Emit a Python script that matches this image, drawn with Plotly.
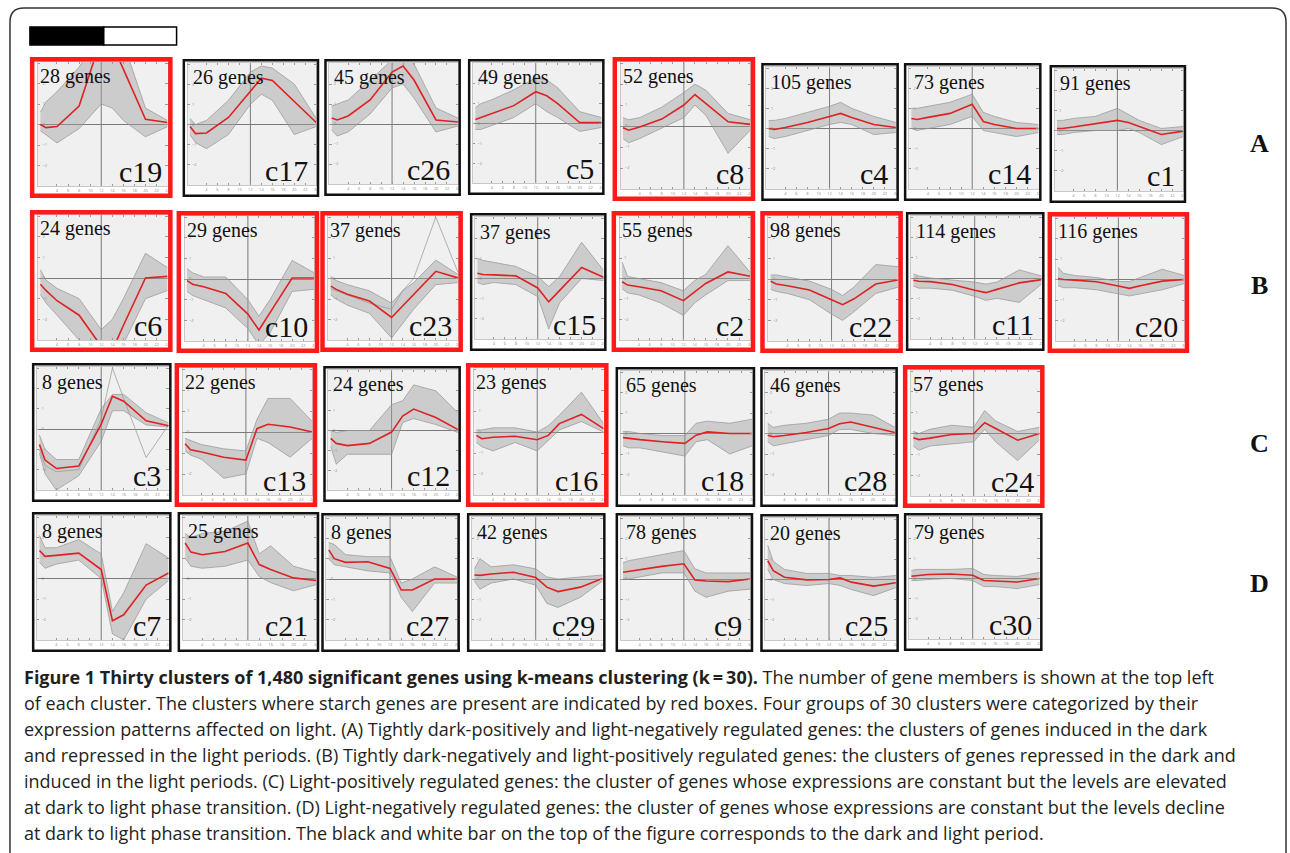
import plotly.graph_objects as go

W, H = 1290, 853

# sampling times (h) of the 24 h dark/light time course
T = [1, 2, 4, 8, 12, 14, 16, 20, 24]

ROW_A = ["c19", "c17", "c26", "c5", "c8", "c4", "c14", "c1"]
ROW_B = ["c6", "c10", "c23", "c15", "c2", "c22", "c11", "c20"]
ROW_C = ["c3", "c13", "c12", "c16", "c18", "c28", "c24"]
ROW_D = ["c7", "c21", "c27", "c29", "c9", "c25", "c30"]

GENES = {
    "c19": 28, "c17": 26, "c26": 45, "c5": 49, "c8": 52, "c4": 105, "c14": 73, "c1": 91,
    "c6": 24, "c10": 29, "c23": 37, "c15": 37, "c2": 55, "c22": 98, "c11": 114, "c20": 116,
    "c3": 8, "c13": 22, "c12": 24, "c16": 23, "c18": 65, "c28": 46, "c24": 57,
    "c7": 8, "c21": 25, "c27": 8, "c29": 42, "c9": 78, "c25": 20, "c30": 79,
}

# clusters that contain starch genes
STARCH = ["c19", "c8", "c6", "c10", "c23", "c2", "c22", "c20", "c13", "c16", "c24"]

# cluster mean expression (log ratio) at each time point
MEAN = {
    "c19": [0.0, -0.15, -0.1, 0.9, 4.2, 3.9, 2.7, 0.25, 0.1],
    "c17": [-0.1, -0.45, -0.42, 0.35, 1.65, 2.3, 2.18, 1.14, 0.1],
    "c26": [0.3, 0.2, 0.4, 1.2, 2.6, 2.9, 2.2, 0.2, 0.1],
    "c5": [0.2, 0.3, 0.5, 0.9, 1.6, 1.4, 1.0, 0.05, 0.05],
    "c8": [-0.08, -0.2, -0.05, 0.33, 1.0, 1.5, 1.07, 0.2, 0.08],
    "c4": [0.0, -0.05, 0.05, 0.3, 0.6, 0.75, 0.55, 0.2, 0.05],
    "c14": [0.5, 0.45, 0.55, 0.75, 1.2, 0.35, 0.2, 0.0, 0.0],
    "c1": [0.1, 0.1, 0.17, 0.33, 0.5, 0.4, 0.2, -0.2, -0.03],
    "c6": [-0.3, -0.6, -1.1, -1.8, -3.3, -3.5, -2.3, 0.0, 0.08],
    "c10": [-0.08, -0.25, -0.37, -0.7, -1.7, -2.47, -1.63, 0.05, 0.05],
    "c23": [-0.37, -0.53, -0.77, -1.1, -1.9, -1.34, -0.78, 0.35, 0.03],
    "c15": [0.26, 0.2, 0.18, 0.13, -0.47, -1.16, -0.59, 0.55, 0.06],
    "c2": [-0.16, -0.32, -0.4, -0.6, -1.08, -0.66, -0.24, 0.32, 0.11],
    "c22": [-0.11, -0.24, -0.33, -0.53, -1.0, -1.24, -0.97, -0.24, -0.05],
    "c11": [-0.11, -0.16, -0.18, -0.32, -0.6, -0.72, -0.56, -0.24, -0.08],
    "c20": [0.05, 0.0, -0.03, -0.11, -0.32, -0.43, -0.3, -0.08, 0.0],
    "c3": [-0.76, -1.53, -1.94, -1.82, 0.24, 1.61, 1.37, 0.4, 0.16],
    "c13": [-0.56, -0.85, -0.95, -1.2, -1.34, 0.16, 0.37, 0.24, 0.0],
    "c12": [-0.4, -0.65, -0.76, -0.65, -0.08, 0.73, 1.08, 0.65, 0.05],
    "c16": [-0.16, -0.32, -0.25, -0.2, -0.37, -0.16, 0.4, 0.84, 0.16],
    "c18": [-0.2, -0.24, -0.3, -0.4, -0.48, -0.08, 0.08, 0.0, 0.0],
    "c28": [-0.08, -0.16, -0.1, 0.05, 0.24, 0.48, 0.56, 0.32, 0.05],
    "c24": [-0.2, -0.29, -0.22, -0.05, 0.0, 0.52, 0.24, -0.32, 0.0],
    "c7": [1.37, 1.08, 1.13, 1.24, 0.44, -2.06, -1.77, -0.32, 0.27],
    "c21": [1.73, 1.29, 1.16, 1.32, 1.73, 0.68, 0.44, 0.03, -0.1],
    "c27": [1.43, 1.0, 0.82, 0.85, 0.52, -0.54, -0.54, 0.0, 0.0],
    "c29": [0.2, 0.18, 0.25, 0.33, 0.08, -0.4, -0.62, -0.4, 0.03],
    "c9": [0.33, 0.37, 0.47, 0.62, 0.75, -0.05, -0.1, -0.13, 0.0],
    "c25": [0.93, 0.44, 0.11, -0.02, 0.0, 0.08, -0.13, -0.33, -0.16],
    "c30": [0.11, 0.15, 0.2, 0.22, 0.16, -0.1, -0.12, -0.17, 0.0],
}

# highest member profile of each cluster
UPPER = {
    "c19": [0.6, 1.1, 1.6, 2.8, 4.5, 4.5, 4.0, 0.8, 0.2],
    "c17": [0.3, 0.0, 0.2, 1.2, 2.6, 2.9, 2.8, 2.0, 0.3],
    "c26": [0.9, 1.0, 1.2, 2.2, 3.2, 3.4, 3.0, 0.8, 0.3],
    "c5": [0.8, 1.0, 1.2, 1.7, 2.3, 2.2, 1.8, 0.6, 0.3],
    "c8": [0.4, 0.3, 0.4, 0.9, 1.6, 2.0, 1.7, 0.6, 0.3],
    "c4": [0.4, 0.4, 0.5, 0.8, 1.1, 1.3, 1.0, 0.6, 0.3],
    "c14": [1.0, 1.0, 1.1, 1.3, 1.7, 0.8, 0.6, 0.3, 0.2],
    "c1": [0.5, 0.5, 0.6, 0.7, 1.1, 0.8, 0.5, 0.1, 0.2],
    "c6": [0.4, -0.1, -0.5, -1.0, -2.5, -2.0, -1.0, 1.2, 0.5],
    "c10": [0.5, 0.3, 0.1, 0.1, -1.0, -1.8, -1.0, 0.9, 0.3],
    "c23": [0.1, -0.1, -0.3, -0.6, -1.2, -0.6, -0.2, 0.9, 0.2],
    "c15": [1.0, 0.9, 0.8, 0.6, 0.1, -0.4, 0.1, 1.8, 0.4],
    "c2": [0.8, 0.1, 0.0, -0.2, -0.6, -0.1, 0.2, 1.6, 0.3],
    "c22": [0.2, 0.2, 0.1, -0.1, -0.5, -0.8, -0.4, 0.7, 0.6],
    "c11": [0.2, 0.1, 0.0, -0.1, -0.2, -0.3, -0.2, 0.4, 0.1],
    "c20": [0.6, 0.3, 0.2, 0.1, -0.1, -0.1, 0.1, 0.5, 0.2],
    "c3": [-0.3, -1.0, -1.5, -1.5, 1.0, 1.7, 1.7, 0.8, 0.3],
    "c13": [-0.3, -0.4, -0.6, -0.8, -0.9, 0.6, 1.6, 1.6, 0.5],
    "c12": [0.0, -0.1, 0.0, 0.0, 1.3, 1.5, 2.3, 2.0, 0.9],
    "c16": [0.1, 0.1, 0.2, 0.2, 0.0, 0.3, 0.8, 1.9, 0.4],
    "c18": [0.1, 0.1, 0.0, -0.1, -0.1, 0.5, 0.6, 0.5, 0.7],
    "c28": [0.5, 0.3, 0.4, 0.5, 0.7, 1.0, 1.0, 0.9, 0.3],
    "c24": [0.1, 0.0, 0.2, 0.4, 0.3, 1.1, 0.6, 0.1, 0.3],
    "c7": [2.1, 1.5, 1.5, 1.9, 1.2, -1.6, -0.7, 1.7, 1.0],
    "c21": [2.2, 2.0, 2.2, 2.3, 2.8, 1.2, 1.6, 0.6, 0.3],
    "c27": [1.8, 1.7, 1.2, 1.1, 1.1, -0.2, 0.0, 0.6, 0.1],
    "c29": [0.5, 1.0, 0.6, 0.7, 0.5, 0.1, 0.0, 0.1, 0.2],
    "c9": [0.8, 0.9, 1.0, 1.2, 1.4, 0.5, 0.3, 0.3, 0.3],
    "c25": [1.7, 0.9, 0.5, 0.3, 0.3, 0.2, 0.2, 0.1, 0.2],
    "c30": [0.4, 0.45, 0.45, 0.45, 0.5, 0.2, 0.15, 0.1, 0.3],
}

# lowest member profile of each cluster
LOWER = {
    "c19": [-0.3, -0.5, -0.9, -0.2, 1.0, 0.8, 0.2, -0.6, -0.1],
    "c17": [-0.5, -0.9, -1.2, -0.5, 1.0, 1.5, 1.2, -0.5, -0.1],
    "c26": [-0.3, -0.6, -0.4, 0.5, 1.8, 2.0, 1.3, -0.4, -0.1],
    "c5": [-0.3, -0.3, -0.1, 0.3, 1.0, 0.6, 0.3, -0.4, -0.2],
    "c8": [-0.6, -0.8, -0.6, -0.1, 0.4, 1.0, 0.5, -1.3, -0.2],
    "c4": [-0.4, -0.5, -0.4, -0.1, 0.2, 0.3, 0.2, -0.3, -0.2],
    "c14": [0.0, -0.1, 0.0, 0.2, 0.6, -0.1, -0.2, -0.4, -0.2],
    "c1": [-0.2, -0.2, -0.1, 0.0, 0.0, 0.1, -0.1, -0.7, -0.3],
    "c6": [-0.8, -1.2, -1.8, -3.0, -3.5, -3.5, -3.2, -1.0, -0.6],
    "c10": [-0.6, -0.8, -1.0, -1.4, -2.4, -3.2, -2.6, -0.6, -0.5],
    "c23": [-0.8, -1.0, -1.3, -1.7, -2.9, -2.2, -1.5, -0.3, -0.2],
    "c15": [-0.2, -0.3, -0.2, -0.3, -0.9, -2.5, -1.2, 0.0, -0.1],
    "c2": [-0.5, -0.7, -0.8, -1.2, -1.8, -1.2, -0.8, -0.1, -0.1],
    "c22": [-0.5, -0.6, -0.7, -1.0, -1.7, -2.0, -1.6, -0.7, -0.4],
    "c11": [-0.4, -0.5, -0.5, -0.6, -0.9, -1.1, -1.0, -1.2, -0.3],
    "c20": [-0.3, -0.4, -0.4, -0.5, -0.7, -0.8, -0.7, -0.5, -0.2],
    "c3": [-1.2, -2.2, -3.0, -2.3, -0.6, 0.9, 0.9, 0.2, 0.1],
    "c13": [-0.9, -1.1, -1.3, -2.2, -2.0, -0.3, -0.5, -1.2, -0.3],
    "c12": [-0.8, -1.7, -1.2, -1.2, -1.2, 0.4, 0.6, 0.3, -0.1],
    "c16": [-0.5, -0.7, -0.9, -0.5, -0.9, -0.4, 0.1, 0.5, 0.0],
    "c18": [-0.6, -0.7, -0.7, -0.9, -1.1, -0.4, -0.3, -1.0, -0.6],
    "c28": [-0.4, -0.6, -0.5, -0.3, -0.1, 0.2, 0.2, 0.0, -0.1],
    "c24": [-0.6, -0.8, -0.6, -0.5, -0.4, 0.2, -0.4, -1.3, -0.3],
    "c7": [0.8, 0.5, 0.7, 0.9, 0.0, -2.7, -3.0, -1.0, -0.1],
    "c21": [1.0, 0.6, 0.5, 0.6, 0.9, 0.1, -0.2, -0.6, -0.3],
    "c27": [1.0, 0.7, 0.6, 0.4, 0.3, -0.9, -1.6, -0.2, -0.2],
    "c29": [-0.1, -0.5, -0.2, 0.0, -0.3, -1.2, -1.4, -0.9, -0.1],
    "c9": [0.0, 0.0, 0.1, 0.3, 0.3, -0.6, -0.9, -0.6, -0.5],
    "c25": [0.5, 0.0, -0.2, -0.3, -0.2, -0.3, -0.5, -0.8, -0.4],
    "c30": [-0.1, -0.1, -0.05, 0.0, -0.1, -0.4, -0.4, -0.5, -0.3],
}

# single members that leave the main band
OUTLIERS = {
    "c23": [-0.5, -0.6, -0.8, -1.2, -1.5, -0.6, 0.0, 3.0, 0.3],
    "c3": [-1.0, -1.8, -2.1, -2.0, 0.5, 3.0, 1.5, -1.4, 0.2],
}

CAPTION_BOLD = "Figure 1 Thirty clusters of 1,480 significant genes using k-means clustering (k\u2009=\u200930)."
CAPTION_LINES = [
    " The number of gene members is shown at the top left",
    "of each cluster. The clusters where starch genes are present are indicated by red boxes. Four groups of 30 clusters were categorized by their",
    "expression patterns affected on light. (A) Tightly dark-positively and light-negatively regulated genes: the clusters of genes induced in the dark",
    "and repressed in the light periods. (B) Tightly dark-negatively and light-positively regulated genes: the clusters of genes repressed in the dark and",
    "induced in the light periods. (C) Light-positively regulated genes: the cluster of genes whose expressions are constant but the levels are elevated",
    "at dark to light phase transition. (D) Light-negatively regulated genes: the cluster of genes whose expressions are constant but the levels decline",
    "at dark to light phase transition. The black and white bar on the top of the figure corresponds to the dark and light period.",
]

# ---- page geometry (pixels) ----
BOX = {
    "c19": (30, 57, 173, 198), "c17": (183, 59, 320, 197), "c26": (325, 59, 462, 196),
    "c5": (469, 59, 606, 195), "c8": (614, 57, 757, 201), "c4": (763, 63, 901, 201),
    "c14": (906, 63, 1044, 201), "c1": (1052, 65, 1189, 203),
    "c6": (30, 210, 173, 352), "c10": (177, 211, 320, 353), "c23": (321, 211, 464, 352),
    "c15": (471, 213, 608, 351), "c2": (613, 211, 757, 352), "c22": (762, 211, 905, 353),
    "c11": (908, 212, 1047, 351), "c20": (1050, 212, 1192, 353),
    "c3": (32, 363, 172, 502), "c13": (175, 363, 318, 507), "c12": (324, 366, 462, 502),
    "c16": (467, 363, 610, 507), "c18": (617, 367, 757, 507), "c28": (762, 367, 900, 507),
    "c24": (905, 365, 1047, 508),
    "c7": (32, 512, 172, 652), "c21": (178, 512, 320, 652), "c27": (322, 513, 461, 652),
    "c29": (468, 513, 607, 652), "c9": (617, 513, 755, 652), "c25": (762, 514, 901, 652),
    "c30": (906, 513, 1045, 651),
}
ROW_LABELS = [("A", 143), ("B", 285), ("C", 443), ("D", 583)]


def px(x):
    return x / W


def py(y):
    return 1 - y / H


RED = "#ff1a1a"
MEAN_RED = "#dd2222"
GRAY = "rgba(150,150,150,0.9)"
BAND = "rgba(160,160,160,0.45)"

fig = go.Figure()
shapes = []
annotations = []
layout_axes = {}

order = ROW_A + ROW_B + ROW_C + ROW_D
for i, name in enumerate(order, start=1):
    x0, y0, x1, y1 = BOX[name]
    is_red = name in STARCH
    bw = 4.5 if is_red else 2.5
    suffix = "" if i == 1 else str(i)
    xa, ya = f"x{suffix}", f"y{suffix}"
    xkey, ykey = f"xaxis{suffix}", f"yaxis{suffix}"

    # plotting area inside the frame
    left = x0 + (8 if is_red else 5)
    right = x1 - (5 if is_red else 3)
    top = y0 + (5 if is_red else 4)
    bottom = y1 - 12

    layout_axes[xkey] = dict(
        domain=[px(left), px(right)], anchor=ya, range=[0.55, 24],
        showgrid=False, zeroline=False, showline=True, linecolor="#c8c8c8", linewidth=0.6,
        mirror="ticks", ticks="inside", ticklen=2.5, tickcolor="#9a9a9a", tickwidth=0.7,
        tickvals=list(range(2, 25, 2)), tickfont=dict(size=4, color="#8a8a8a"),
        fixedrange=True,
    )
    layout_axes[ykey] = dict(
        domain=[py(bottom), py(top)], anchor=xa, range=[-3.0, 3.05],
        showgrid=False, zeroline=True, zerolinecolor="#7a7a7a", zerolinewidth=1,
        showline=True, linecolor="#c8c8c8", linewidth=0.6,
        mirror="ticks", ticks="inside", ticklen=2.5, tickcolor="#9a9a9a", tickwidth=0.7,
        tickvals=[-3, -2, -1, 0, 1, 2, 3], ticklabelposition="inside",
        tickfont=dict(size=4, color="#8a8a8a"), fixedrange=True,
    )

    # spread of the member genes
    fig.add_trace(go.Scatter(
        x=T + T[::-1], y=UPPER[name] + LOWER[name][::-1], mode="lines",
        fill="toself", fillcolor=BAND, line=dict(width=0),
        xaxis=xa, yaxis=ya, hoverinfo="skip", showlegend=False,
    ))
    extra = [OUTLIERS[name]] if name in OUTLIERS else []
    for prof in [UPPER[name], LOWER[name]] + extra:
        fig.add_trace(go.Scatter(
            x=T, y=prof, mode="lines", line=dict(color=GRAY, width=0.8),
            xaxis=xa, yaxis=ya, hoverinfo="skip", showlegend=False,
        ))
    # cluster mean
    fig.add_trace(go.Scatter(
        x=T, y=MEAN[name], mode="lines", line=dict(color=MEAN_RED, width=1.6),
        xaxis=xa, yaxis=ya, showlegend=False,
    ))

    # dark/light boundary
    shapes.append(dict(type="line", xref=xa, yref=f"{ya} domain", x0=12, x1=12, y0=0, y1=1,
                       line=dict(color="#7a7a7a", width=1), layer="below"))
    # cluster frame
    shapes.append(dict(type="rect", xref="paper", yref="paper",
                       x0=px(x0 + bw / 2), x1=px(x1 - bw / 2),
                       y0=py(y1 - bw / 2), y1=py(y0 + bw / 2),
                       line=dict(color=RED if is_red else "#111111", width=bw)))

    annotations.append(dict(
        x=px(x0 + 8), y=py(y0 + 19), xref="paper", yref="paper",
        text=f"{GENES[name]} genes", showarrow=False, xanchor="left", yanchor="middle",
        font=dict(family="Liberation Serif", size=20, color="#111111"),
    ))
    annotations.append(dict(
        x=px(x1 - 9), y=py(y1 - 27), xref="paper", yref="paper",
        text=name, showarrow=False, xanchor="right", yanchor="middle",
        font=dict(family="Liberation Serif", size=30, color="#111111"),
    ))

for lab, yy in ROW_LABELS:
    annotations.append(dict(
        x=px(1262), y=py(yy), xref="paper", yref="paper", text=f"<b>{lab}</b>",
        showarrow=False, xanchor="center", yanchor="middle",
        font=dict(family="Liberation Serif", size=26, color="#111111"),
    ))

# dark / light period bar
shapes.append(dict(type="rect", xref="paper", yref="paper", x0=px(30), x1=px(104),
                   y0=py(45), y1=py(27), fillcolor="#000000", line=dict(color="#000000", width=1.5)))
shapes.append(dict(type="rect", xref="paper", yref="paper", x0=px(104), x1=px(177),
                   y0=py(45), y1=py(27), fillcolor="#ffffff", line=dict(color="#000000", width=1.5)))

# rounded outer frame
shapes.append(dict(
    type="path", xref="paper", yref="paper",
    path=(f"M {px(10)},{py(853)} L {px(10)},{py(22)} Q {px(10)},{py(8)} {px(24)},{py(8)} "
          f"L {px(1275)},{py(8)} Q {px(1289)},{py(8)} {px(1289)},{py(22)} L {px(1289)},{py(853)}"),
    line=dict(color="#333333", width=1.5),
))

# caption
cap_y = [677, 703, 729, 755, 781, 807, 833]
cap_font = dict(family="Open Sans", size=18, color="#231f20")
for k, line in enumerate(CAPTION_LINES):
    text = f"<b>{CAPTION_BOLD}</b>{line}" if k == 0 else line
    annotations.append(dict(
        x=px(22), y=py(cap_y[k]), xref="paper", yref="paper", text=text,
        showarrow=False, xanchor="left", yanchor="middle", font=cap_font,
    ))

fig.update_layout(
    width=W, height=H, margin=dict(l=0, r=0, t=0, b=0),
    paper_bgcolor="#ffffff", plot_bgcolor="#f0f0f0",
    shapes=shapes, annotations=annotations, showlegend=False,
    **layout_axes,
)

fig.write_html("out.html", config={"displayModeBar": False})
